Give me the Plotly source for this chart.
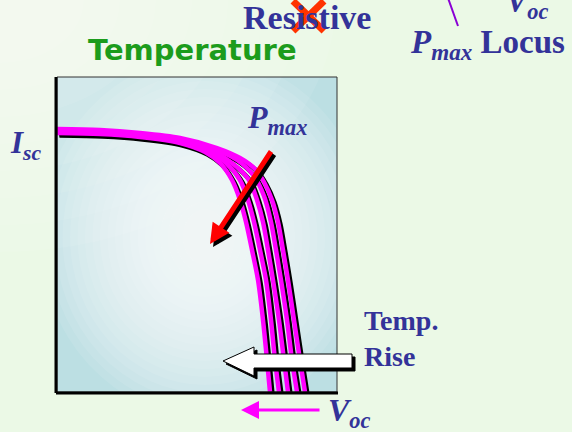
import plotly.graph_objects as go

# ---- data (arbitrary units: V from 0 at the left of the box, I from 0 at the bottom) ----
curve_names = ["T1", "T2", "T3", "T4", "T5"]
v_c1 = [0, 43, 83, 123, 148, 163, 175, 183, 189, 195, 201, 206, 210, 213]
i_c1 = [259, 258, 255, 249, 240, 229, 212, 192, 170, 142, 112, 72, 32, 0]
v_c2 = [0, 43, 83, 123, 151, 169, 183, 191, 197, 203, 209, 214, 218, 222]
i_c2 = [260, 259, 256, 251, 241, 229, 212, 192, 170, 142, 112, 72, 32, 0]
v_c3 = [0, 43, 83, 123, 154, 175, 192, 200, 206, 211, 216, 222, 227, 231]
i_c3 = [261, 260, 257, 252, 242, 229, 212, 192, 170, 142, 112, 72, 32, 0]
v_c4 = [0, 43, 83, 123, 157, 180, 197, 207, 214, 219, 224, 230, 235, 240]
i_c4 = [262, 261, 258, 253, 243, 232, 216, 196, 170, 142, 112, 72, 32, 0]
v_c5 = [0, 43, 83, 123, 160, 183, 198, 207, 215, 221, 226, 231, 237, 243, 248]
i_c5 = [263, 262, 259, 254, 244, 234, 223, 210, 192, 170, 142, 112, 72, 32, 0]
curves_v = [v_c1, v_c2, v_c3, v_c4, v_c5]
curves_i = [i_c1, i_c2, i_c3, i_c4, i_c5]

V_RANGE = [0, 280]
I_RANGE = [0, 315]

# ---- layout geometry (pixels) ----
W, H = 572, 432
BOX_L, BOX_R, BOX_T, BOX_B = 57, 337, 77, 392


def px(xp):
    return (xp - BOX_L) / (BOX_R - BOX_L)


def py(yp):
    return (BOX_B - yp) / (BOX_B - BOX_T)


BLUE_TXT = "#333399"
SERIF = "Liberation Serif"

fig = go.Figure()

# shadows first, then magenta curves
for v, i in zip(curves_v, curves_i):
    fig.add_trace(go.Scatter(x=[a + 2.5 for a in v], y=[b - 2.5 for b in i], mode="lines",
                             line=dict(color="black", width=4.5, shape="spline", smoothing=0.8),
                             hoverinfo="skip", showlegend=False))
for name, v, i in zip(curve_names, curves_v, curves_i):
    fig.add_trace(go.Scatter(x=v, y=i, mode="lines", name=name,
                             line=dict(color="#ff00ff", width=4.5, shape="spline", smoothing=0.8),
                             showlegend=False))

shapes = []
# soft page glow (lighter toward the upper left)
for k in range(8):
    r = 420 - k * 45
    shapes.append(dict(type="circle", xref="paper", yref="paper", x0=px(-r * 0.8), x1=px(r * 0.8),
                       y0=py(r * 0.6), y1=py(-r * 0.6), fillcolor="white", opacity=0.08,
                       line=dict(width=0), layer="below"))
# radial white glow inside the box
n_glow = 20
for k in range(n_glow):
    rx = 165 - k * 7.5
    ry = 180 - k * 8
    cx, cy = 148, 155
    shapes.append(dict(type="circle", xref="x", yref="y", x0=cx - rx, x1=cx + rx,
                       y0=cy - ry, y1=cy + ry, fillcolor="white", opacity=0.09,
                       line=dict(width=0), layer="below"))
# box outline
shapes.append(dict(type="rect", xref="paper", yref="paper", x0=0, x1=1, y0=0, y1=1,
                   line=dict(color="#333333", width=1)))
shapes.append(dict(type="line", xref="paper", yref="paper", x0=px(56), x1=px(56), y0=py(393), y1=py(77),
                   line=dict(color="black", width=3)))
shapes.append(dict(type="line", xref="paper", yref="paper", x0=px(56), x1=px(338), y0=py(393), y1=py(393),
                   line=dict(color="black", width=3)))


def block_arrow(dx, dy):
    pts = [(223, 361), (254, 347), (254, 354), (352, 354), (352, 368), (254, 368), (254, 376)]
    return "M " + " L ".join(f"{px(a + dx):.4f},{py(b + dy):.4f}" for a, b in pts) + " Z"


shapes.append(dict(type="path", xref="paper", yref="paper", path=block_arrow(3, 3),
                   fillcolor="black", line=dict(color="black", width=1)))
shapes.append(dict(type="path", xref="paper", yref="paper", path=block_arrow(0, 0),
                   fillcolor="white", line=dict(color="black", width=1)))
# red X over "Resistive"
shapes.append(dict(type="line", xref="paper", yref="paper", x0=px(293), y0=py(1), x1=px(324), y1=py(31),
                   line=dict(color="#ff3300", width=7)))
shapes.append(dict(type="line", xref="paper", yref="paper", x0=px(324), y0=py(1), x1=px(293), y1=py(31),
                   line=dict(color="#ff3300", width=7)))
# purple Voc locus line
shapes.append(dict(type="line", xref="paper", yref="paper", x0=px(448), y0=py(-2), x1=px(458), y1=py(26),
                   line=dict(color="#8a00d4", width=2)))

ann = []


def text(xp, yp, t, size, color=BLUE_TXT, family=SERIF, xanchor="left", yanchor="middle"):
    ann.append(dict(xref="paper", yref="paper", x=px(xp), y=py(yp), text=t, showarrow=False,
                    xanchor=xanchor, yanchor=yanchor, align="left",
                    font=dict(family=family, size=size, color=color)))


text(192, 50, "<b>Temperature</b>", 29, color="#1c9c1c", family="DejaVu Sans", xanchor="center")
text(241, 17, "<b>Resistive</b>", 34)
text(504, 4, "<b><i>V</i><sub><i>oc</i></sub></b>", 32)
text(408, 45, "<b><i>P</i><sub><i>max</i></sub> Locus</b>", 33)
text(8, 145, "<b><i>I</i><sub><i>sc</i></sub></b>", 31)
text(245, 120, "<b><i>P</i><sub><i>max</i></sub></b>", 32)
text(362, 338, "<b>Temp.<br>Rise</b>", 28)
text(326, 412, "<b><i>V</i><sub><i>oc</i></sub></b>", 32)

# red Pmax arrow with shadow
for col, off in (("black", 3), ("red", 0)):
    ann.append(dict(xref="x", yref="y", axref="x", ayref="y", x=153 + off, y=148 - off,
                    ax=215 + off, ay=242 - off, text="", showarrow=True, arrowhead=2,
                    arrowsize=0.8, arrowwidth=5, arrowcolor=col))
# magenta Voc arrow
ann.append(dict(xref="paper", yref="paper", x=px(241), y=py(410), ax=80, ay=0, text="",
                showarrow=True, arrowhead=2, arrowsize=1.2, arrowwidth=3, arrowcolor="#ff00ff"))

fig.update_layout(
    width=W, height=H,
    margin=dict(l=BOX_L, r=W - BOX_R, t=BOX_T, b=H - BOX_B, pad=0),
    paper_bgcolor="#ebf9e6",
    plot_bgcolor="#bcdfe3",
    xaxis=dict(range=V_RANGE, visible=False, fixedrange=True),
    yaxis=dict(range=I_RANGE, visible=False, fixedrange=True),
    shapes=shapes,
    annotations=ann,
    showlegend=False,
)

fig.write_html("out.html", config={"displayModeBar": False},
               post_script="document.body.style.margin='0';document.body.style.overflow='hidden';")
